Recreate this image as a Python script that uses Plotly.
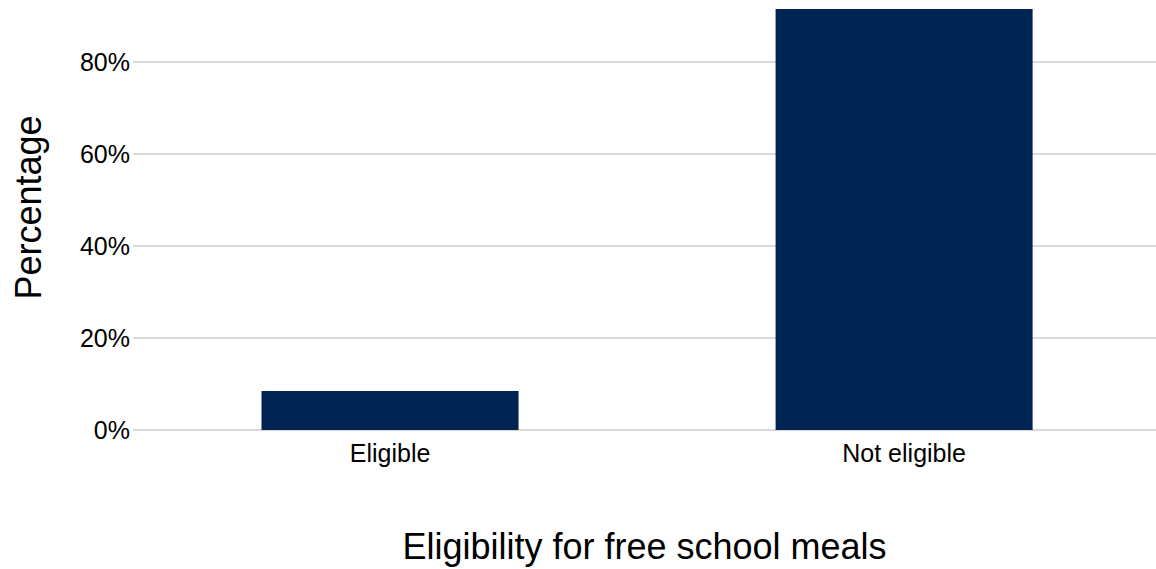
import plotly.graph_objects as go

categories = ["Eligible", "Not eligible"]
values = [8.5, 91.5]
tick_vals = [0, 20, 40, 60, 80]
tick_text = ["0%", "20%", "40%", "60%", "80%"]

fig = go.Figure(go.Bar(
    x=categories, y=values, width=0.5,
    marker=dict(color="#002452", line=dict(width=0)),
))

font = "Liberation Sans, Arial, sans-serif"
fig.update_layout(
    width=1156, height=569,
    margin=dict(l=133, r=0, t=9, b=139, autoexpand=False),
    plot_bgcolor="white", paper_bgcolor="white",
    font=dict(family=font, color="black"),
    showlegend=False,
    xaxis=dict(
        title=dict(text="Eligibility for free school meals", font=dict(size=36), standoff=67),
        tickfont=dict(size=25), showgrid=False, showline=False, ticks="",
        ticklabelstandoff=6,
        range=[-0.5, 1.49], automargin=False,
    ),
    yaxis=dict(
        tickfont=dict(size=25),
        tickvals=tick_vals, ticktext=tick_text,
        ticklabelstandoff=2,
        range=[0, 91.5], automargin=False,
        showgrid=True, gridcolor="#d9d9d9", gridwidth=1.5,
        zeroline=True, zerolinecolor="#d9d9d9", zerolinewidth=1.5,
        showline=False, ticks="", ticklen=0,
    ),
    annotations=[dict(
        text="Percentage", textangle=-90, font=dict(size=36),
        xref="paper", yref="paper", x=-0.1026, y=0.5285,
        xanchor="center", yanchor="middle", showarrow=False,
    )],
)

fig.write_html("out.html", config={"displayModeBar": False},
               post_script="document.body.style.margin='0px';document.body.style.overflow='hidden';")
